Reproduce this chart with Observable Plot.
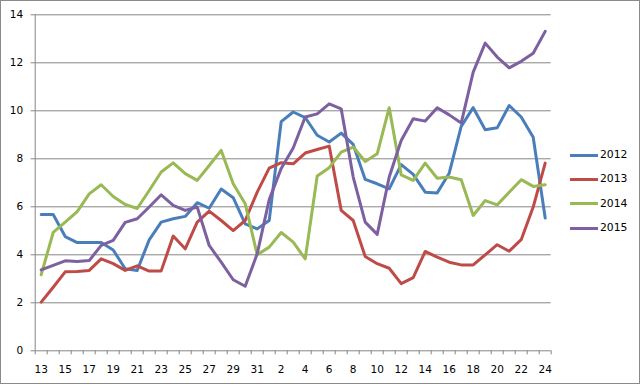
<!DOCTYPE html>
<html>
<head>
<meta charset="utf-8">
<script src="https://cdn.jsdelivr.net/npm/d3@7"></script>
<script src="https://cdn.jsdelivr.net/npm/@observablehq/plot@0.6"></script>
<style>
  html, body { margin: 0; padding: 0; background: #fff; }
  #wrap { position: relative; width: 641px; height: 385px; overflow: hidden; background: #fff; }
  #chart svg { position: absolute; left: 0; top: 0; }
  #frame { position: absolute; left: 0; top: 0; width: 640px; height: 384px; box-sizing: border-box; border: 1px solid #8a8a8a; pointer-events: none; }
  #legend { position: absolute; left: 570px; top: 145px; font-family: "DejaVu Sans", sans-serif; font-size: 10.8px; color: #000; }
  .item { position: absolute; left: 0; height: 20px; width: 70px; }
  .swatch { position: absolute; left: 0; top: 8.5px; width: 28px; height: 3px; }
  .lab { position: absolute; left: 30px; top: 2px; line-height: 16px; }
</style>
</head>
<body>
<div id="wrap">
  <div id="chart"></div>
  <div id="legend"></div>
  <div id="frame"></div>
</div>
<script>
const weeks = [13,14,15,16,17,18,19,20,21,22,23,24,25,26,27,28,29,30,31,
               1,2,3,4,5,6,7,8,9,10,11,12,13,14,15,16,17,18,19,20,21,22,23,24];

const seriesNames = ["2012", "2013", "2014", "2015"];
const seriesColors = ["#4a7ebb", "#be4b48", "#98b954", "#7d60a0"];

const s2012 = [5.68,5.68,4.76,4.51,4.51,4.51,4.2,3.42,3.35,4.62,5.36,5.5,5.6,6.17,5.94,6.74,6.38,5.29,5.08,5.43,
               9.55,9.95,9.72,8.98,8.7,9.07,8.6,7.14,6.96,6.75,7.76,7.35,6.61,6.58,7.4,9.35,10.13,9.21,9.29,10.22,9.74,8.9,5.53];
const s2013 = [2.03,2.65,3.29,3.3,3.35,3.83,3.63,3.35,3.54,3.32,3.33,4.78,4.25,5.36,5.82,5.43,5.01,5.43,6.61,7.61,
               7.84,7.79,8.24,8.39,8.53,5.85,5.43,3.93,3.63,3.44,2.8,3.05,4.14,3.9,3.69,3.58,3.58,4.0,4.42,4.15,4.63,5.99,7.82];
const s2014 = [3.17,4.93,5.36,5.8,6.54,6.92,6.43,6.1,5.93,6.68,7.45,7.83,7.38,7.1,7.72,8.35,6.96,6.13,4.0,4.32,
               4.93,4.53,3.83,7.28,7.63,8.28,8.49,7.89,8.21,10.13,7.33,7.1,7.82,7.19,7.24,7.13,5.64,6.26,6.08,6.61,7.13,6.85,6.92];
const s2015 = [3.37,3.56,3.75,3.72,3.76,4.39,4.6,5.35,5.5,5.99,6.5,6.06,5.85,5.99,4.39,3.69,2.96,2.69,4.04,6.3,
               7.6,8.45,9.74,9.87,10.29,10.08,7.24,5.36,4.85,7.24,8.76,9.67,9.57,10.13,9.83,9.49,11.61,12.82,12.24,11.79,12.06,12.4,13.31];

const yTicks = [0, 2, 4, 6, 8, 10, 12, 14];

const allSeries = [s2012, s2013, s2014, s2015];
const data = [];
allSeries.forEach((vals, k) => {
  vals.forEach((v, i) => data.push({i, v, s: seriesNames[k]}));
});

const boundaries = d3.range(weeks.length + 1).map(d => d - 0.5);
const labelIdx = d3.range(0, weeks.length, 2);
const gray = "#868686";

const chart = Plot.plot({
  width: 641,
  height: 385,
  marginLeft: 34.7,
  marginRight: 90.3,
  marginTop: 14.3,
  marginBottom: 34.7,
  style: {fontFamily: "DejaVu Sans, sans-serif", fontSize: "10.5px", color: "#000", background: "transparent"},
  x: {type: "linear", domain: [-0.5, weeks.length - 0.5]},
  y: {domain: [0, 14]},
  color: {domain: seriesNames, range: seriesColors},
  marks: [
    Plot.gridY(yTicks, {stroke: gray, strokeOpacity: 1, strokeWidth: 1}),
    Plot.ruleX([-0.5], {y1: 0, y2: 14, stroke: gray, strokeWidth: 1}),
    Plot.axisY(yTicks, {tickSize: 4, tickPadding: 8, stroke: gray, fill: "#000", label: null}),
    Plot.axisX(boundaries, {tickSize: 4, tickFormat: () => "", stroke: gray, label: null}),
    Plot.axisX(labelIdx, {tickSize: 0, tickPadding: 15, tickFormat: i => String(weeks[i]), fill: "#000", label: null}),
    Plot.line(data, {x: "i", y: "v", z: "s", stroke: "s", strokeWidth: 3, strokeLinejoin: "round", strokeLinecap: "round"})
  ]
});
document.getElementById("chart").appendChild(chart);

const legend = document.getElementById("legend");
seriesNames.forEach((name, k) => {
  const item = document.createElement("div");
  item.className = "item";
  item.style.top = (k * 24.4) + "px";
  const sw = document.createElement("div");
  sw.className = "swatch";
  sw.style.background = seriesColors[k];
  const lab = document.createElement("div");
  lab.className = "lab";
  lab.textContent = name;
  item.appendChild(sw);
  item.appendChild(lab);
  legend.appendChild(item);
});
</script>
</body>
</html>
